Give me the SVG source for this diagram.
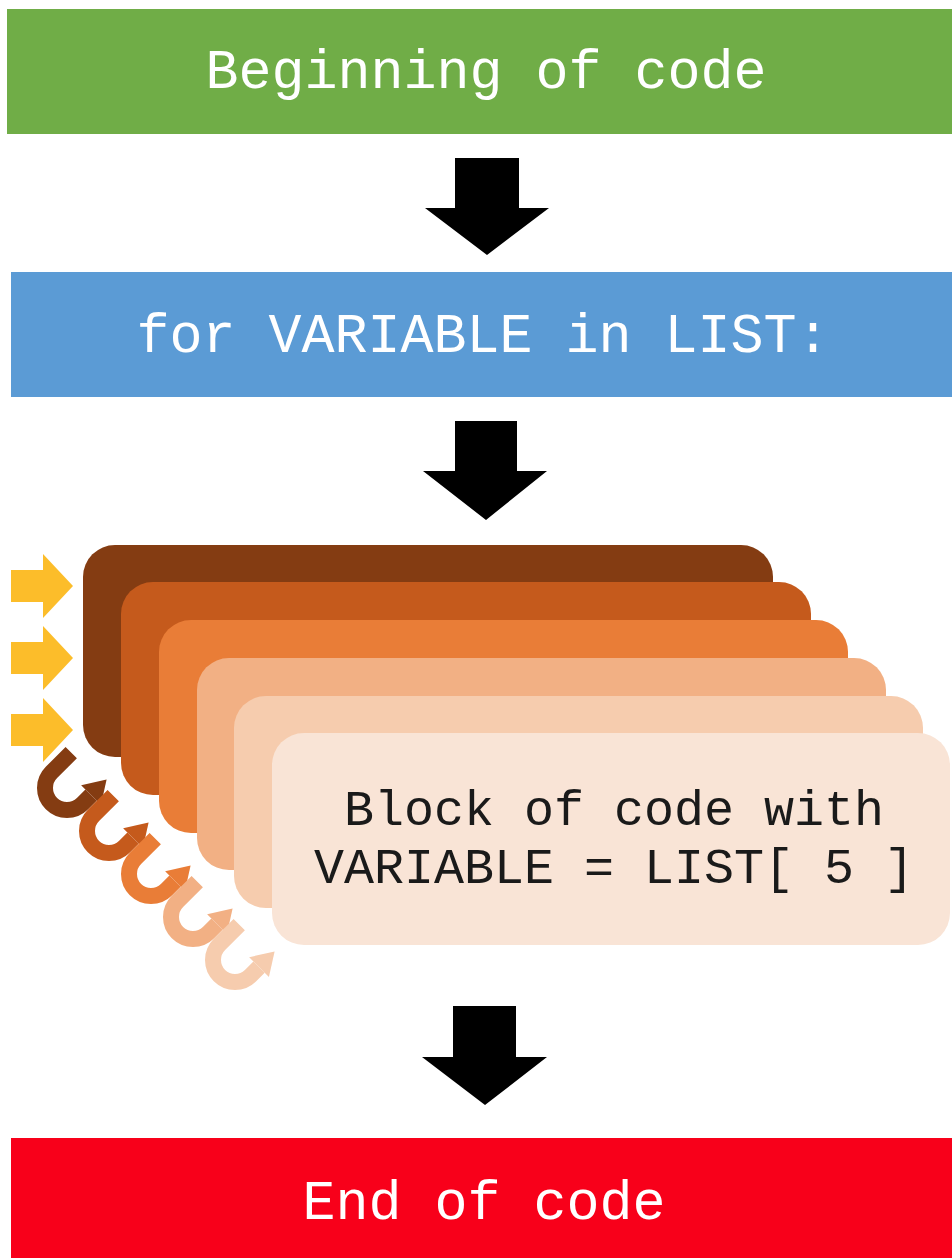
<svg xmlns="http://www.w3.org/2000/svg" width="952" height="1258" viewBox="0 0 952 1258">
  <defs>
    <style>
      .hdr { font-family: "Liberation Mono", "Courier New", monospace; font-size: 55px; fill: #ffffff; text-anchor: middle; }
      .blk { font-family: "Liberation Mono", "Courier New", monospace; font-size: 50px; fill: #1a1a1a; text-anchor: middle; }
      .down { fill: #000000; }
      .yarrow { fill: #FCBD2A; }
      .ubody { fill: none; stroke-width: 16; }
    </style>
  </defs>
  <rect width="952" height="1258" fill="#ffffff"/>

  <g id="begin">
    <rect x="7" y="9" width="945" height="125" fill="#70AD47"/>
    <text class="hdr" x="486" y="88">Beginning of code</text>
  </g>

  <g id="forloop">
    <rect x="11" y="272" width="941" height="125" fill="#5B9BD5"/>
    <text class="hdr" x="483" y="352">for VARIABLE in LIST:</text>
  </g>

  <g id="block">
    <rect x="83" y="545" width="690" height="212" rx="32" fill="#843C12"/>
    <rect x="121" y="582" width="690" height="213" rx="32" fill="#C55A1C"/>
    <rect x="159" y="620" width="689" height="213" rx="32" fill="#E97D37"/>
    <rect x="197" y="658" width="689" height="212" rx="32" fill="#F2B084"/>
    <rect x="234" y="696" width="689" height="212" rx="32" fill="#F6CCAE"/>
    <rect x="272" y="733" width="678" height="212" rx="32" fill="#F9E4D6"/>
    <text class="blk" x="614" y="825">Block of code with</text>
    <text class="blk" x="614" y="883">VARIABLE = LIST[ 5 ]</text>
  </g>

  <g id="end">
    <rect x="11" y="1138" width="941" height="120" fill="#F8001A"/>
    <text class="hdr" x="484" y="1219">End of code</text>
  </g>

  <g id="connectors">
    <polygon class="down" points="455,158 519,158 519,208 549,208 487,255 425,208 455,208"/>
    <polygon class="down" points="455,421 517,421 517,471 547,471 486,520 423,471 455,471"/>
    <polygon class="down" points="453,1006 516,1006 516,1057 547,1057 485,1105 422,1057 453,1057"/>

    <polygon class="yarrow" points="11,570 43,570 43,554 73,586 43,618 43,602 11,602"/>
    <polygon class="yarrow" points="11,642 43,642 43,626 73,658 43,690 43,674 11,674"/>
    <polygon class="yarrow" points="11,714 43,714 43,698 73,730 43,762 43,746 11,746"/>

    <g transform="translate(67,788) rotate(45)" fill="#843C12" stroke="#843C12">
      <path class="ubody" d="M -22 -28 L -22 0 A 22 22 0 0 0 22 0 L 22 -12"/>
      <polygon points="8,-12 36,-12 22,-34" stroke="none"/>
    </g>
    <g transform="translate(109,831) rotate(45)" fill="#C55A1C" stroke="#C55A1C">
      <path class="ubody" d="M -22 -28 L -22 0 A 22 22 0 0 0 22 0 L 22 -12"/>
      <polygon points="8,-12 36,-12 22,-34" stroke="none"/>
    </g>
    <g transform="translate(151,874) rotate(45)" fill="#E97D37" stroke="#E97D37">
      <path class="ubody" d="M -22 -28 L -22 0 A 22 22 0 0 0 22 0 L 22 -12"/>
      <polygon points="8,-12 36,-12 22,-34" stroke="none"/>
    </g>
    <g transform="translate(193,917) rotate(45)" fill="#F2B084" stroke="#F2B084">
      <path class="ubody" d="M -22 -28 L -22 0 A 22 22 0 0 0 22 0 L 22 -12"/>
      <polygon points="8,-12 36,-12 22,-34" stroke="none"/>
    </g>
    <g transform="translate(235,960) rotate(45)" fill="#F6CCAE" stroke="#F6CCAE">
      <path class="ubody" d="M -22 -28 L -22 0 A 22 22 0 0 0 22 0 L 22 -12"/>
      <polygon points="8,-12 36,-12 22,-34" stroke="none"/>
    </g>
  </g>
</svg>
